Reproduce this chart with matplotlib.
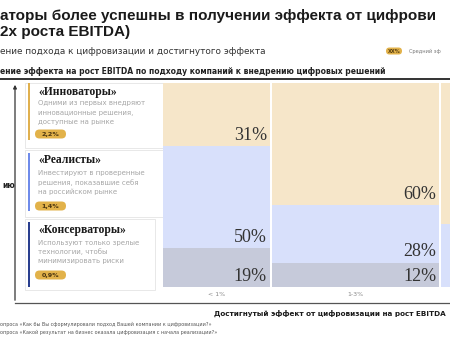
import matplotlib
matplotlib.use("Agg")
import matplotlib.pyplot as plt
from matplotlib.patches import FancyBboxPatch, Rectangle

# data
buckets = ["< 1%", "1-3%", "> 3%"]
bucket_widths = [29, 45, 26]          # share of companies in each effect bucket
approaches = ["Инноваторы", "Реалисты", "Консерваторы"]
shares_innov = [31, 60, 69]
shares_real = [50, 28, 31]
shares_cons = [19, 12, 0]
avg_effect = ["2,2%", "1,4%", "0,9%"]
descriptions = [
    ["Одними из первых внедряют", "инновационные решения,", "доступные на рынке"],
    ["Инвестируют в проверенные", "решения, показавшие себя", "на российском рынке"],
    ["Используют только зрелые", "технологии, чтобы", "минимизировать риски"],
]

seg_colors = ["#F6E6C9", "#D8E0FB", "#C6CADA"]
accent = ["#E0B04E", "#6F8BEA", "#2A3F8F"]
gold = "#E2B24A"
sans = "DejaVu Sans"
serif = "Liberation Serif"

W, H = 450, 340
fig = plt.figure(figsize=(4.5, 3.4), dpi=100)

# pixel overlay for annotations
ov = fig.add_axes([0, 0, 1, 1])
ov.set_xlim(0, W)
ov.set_ylim(H, 0)
ov.axis("off")

# marimekko axes (pixel box 163..450 x 83..287)
left, right, top, bot = 163, 450, 83, 287
ax = fig.add_axes([left / W, 1 - bot / H, (right - left) / W, (bot - top) / H])
px_per_unit = 109 / bucket_widths[0]
xmax = (right - left) / px_per_unit
ax.set_xlim(0, xmax)
ax.set_ylim(0, 100)
ax.axis("off")
gap = 2 / px_per_unit

x0 = 0
centers = []
for i, w in enumerate(bucket_widths):
    vals = [shares_cons[i], shares_real[i], shares_innov[i]]
    cols = [seg_colors[2], seg_colors[1], seg_colors[0]]
    b = 0
    for v, c in zip(vals, cols):
        if v > 0:
            ax.bar(x0, v, width=w - gap, bottom=b, align="edge", color=c, linewidth=0)
            # labels only where the column is inside the canvas
            if x0 + w - gap <= xmax:
                ax.text(x0 + w - gap - 0.8, b + 1.2, f"{v}%", ha="right", va="bottom",
                        fontsize=13, family=serif, color="#333333")
        b += v
    centers.append(x0 + (w - gap) / 2)
    x0 += w

# bucket labels under the columns
for c, lab in zip(centers, buckets):
    xp = left + c * px_per_unit
    if xp < W - 20:
        ov.text(xp, 295, lab, ha="center", va="center", fontsize=4.5, family=sans, color="#888888")

# titles
ov.text(0, 20, "аторы более успешны в получении эффекта от цифрови", fontsize=11,
        fontweight="bold", family="Liberation Sans", color="#1a1a1a", va="baseline")
ov.text(0, 36, "2x роста EBITDA)", fontsize=11, fontweight="bold", family="Liberation Sans",
        color="#1a1a1a", va="baseline")
ov.text(0, 51, "ение подхода к цифровизации и достигнутого эффекта", fontsize=6.4,
        family=sans, color="#333333", va="center")

# legend badge
ov.add_patch(FancyBboxPatch((386, 47.5), 16, 7, boxstyle="round,pad=0,rounding_size=3.5",
                            fc=gold, ec="none"))
ov.text(394, 51.2, "XX%", ha="center", va="center", fontsize=3.6, fontweight="bold",
        family=sans, color="#5a4010")
ov.text(409, 51.2, "Средний эф", va="center", fontsize=3.6, family=sans, color="#777777")

# header + rule
ov.text(0, 71, "ение эффекта на рост EBITDA по подходу компаний к внедрению цифровых решений",
        fontsize=5.5, fontweight="bold", family=sans, color="#222222", va="center")
ov.plot([0, W], [78.5, 78.5], color="#333333", lw=1.4)

# y axis arrow and frame
ov.annotate("", xy=(15, 82), xytext=(15, 303),
            arrowprops=dict(arrowstyle="-|>", color="#333333", lw=0.9, mutation_scale=5))
ov.plot([15, W], [303, 303], color="#555555", lw=0.9)
ov.text(2, 185, "ию", ha="left", va="center", fontsize=5.5, fontweight="bold",
        family=sans, color="#222222")

# cards
cards = [(83, 148), (150, 217), (219, 290)]
bars = [(83, 140), (153, 211), (222, 287)]
title_y = [92, 160, 230]
desc_y = [[103, 112.5, 122], [173, 182.5, 192], [243, 252, 261]]
badge_y = [134, 206, 275]
card_right = [163, 163, 155]
for i in range(3):
    y0, y1 = cards[i]
    ov.add_patch(Rectangle((25, y0), card_right[i] - 25, y1 - y0, fc="white",
                           ec="#e4e4e4", lw=0.6))
    ov.add_patch(Rectangle((28, bars[i][0]), 2.4, bars[i][1] - bars[i][0], fc=accent[i],
                           ec="none"))
    ov.text(38, title_y[i], f"«{approaches[i]}»", fontsize=8.4, fontweight="bold",
            family=serif, color="#1a1a1a", va="center")
    for yy, line in zip(desc_y[i], descriptions[i]):
        ov.text(38, yy, line, fontsize=5.0, family=sans, color="#a6a6a6", va="center")
    ov.add_patch(FancyBboxPatch((35, badge_y[i] - 4.5), 31, 9,
                                boxstyle="round,pad=0,rounding_size=4.5", fc=gold, ec="none"))
    ov.text(50.5, badge_y[i] + 0.3, avg_effect[i], ha="center", va="center", fontsize=4.6,
            fontweight="bold", family=sans, color="#4a3510")

# x axis title and footnotes
ov.text(446, 313, "Достигнутый эффект от цифровизации на рост EBITDA", fontsize=5.2,
        fontweight="bold", family=sans, color="#1a1a1a", va="center", ha="right")
ov.text(0, 324, "опроса «Как бы Вы сформулировали подход Вашей компании к цифровизации?»",
        fontsize=3.5, family=sans, color="#555555", va="center")
ov.text(0, 332, "опроса «Какой результат на бизнес оказала цифровизация с начала реализации?»",
        fontsize=3.5, family=sans, color="#555555", va="center")

fig.savefig("out.png", dpi=100)
